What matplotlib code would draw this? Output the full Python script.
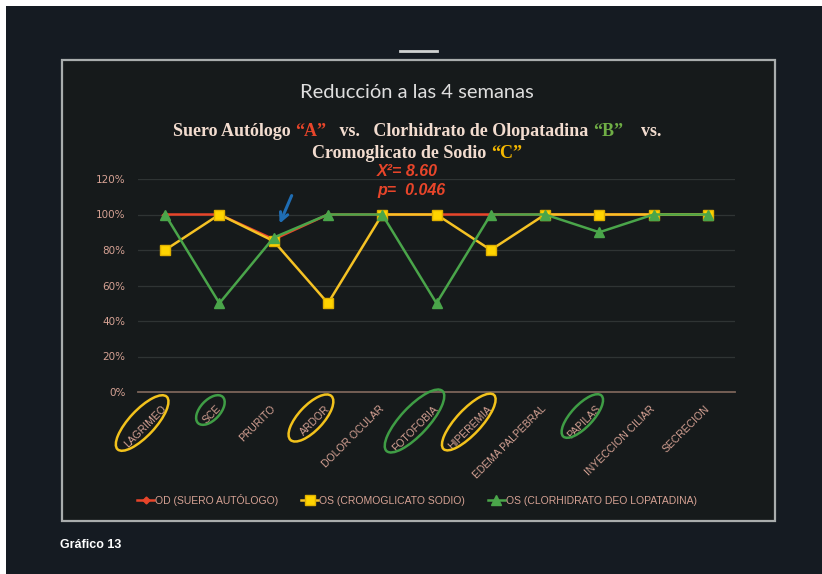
import numpy as np
import matplotlib
matplotlib.use('Agg')
import matplotlib.pyplot as plt
from matplotlib.patches import Rectangle, Ellipse
from matplotlib.ticker import PercentFormatter

# data: reduccion de sintomas a las 4 semanas
sintomas = ['LAGRIMEO', 'SCE', 'PRURITO', 'ARDOR', 'DOLOR OCULAR', 'FOTOFOBIA',
            'HIPEREMIA', 'EDEMA PALPEBRAL', 'PAPILAS', 'INYECCION CILIAR', 'SECRECION']
od_suero = [1.00, 1.00, 0.86, 1.00, 1.00, 1.00, 1.00, 1.00, 1.00, 1.00, 1.00]
os_cromo = [0.80, 1.00, 0.85, 0.50, 1.00, 1.00, 0.80, 1.00, 1.00, 1.00, 1.00]
os_olopa = [1.00, 0.50, 0.87, 1.00, 1.00, 0.50, 1.00, 1.00, 0.90, 1.00, 1.00]
y_ticks = [0, 0.2, 0.4, 0.6, 0.8, 1.0, 1.2]

# sintomas marcados a mano: indice, color, largo, ancho, desplazamiento
marcas = [(0, 'y', 72, 26, -23, 31), (1, 'g', 36, 20, -9, 18),
          (3, 'y', 60, 25, -17, 26), (5, 'g', 82, 28, -22, 29),
          (6, 'y', 74, 25, -22, 30), (8, 'g', 56, 22, -17, 24)]

W, H = 822, 574
RED = '#e8452a'
YEL = '#f5c224'
GRN = '#4aa54a'
PINK = '#d6a294'

fig = plt.figure(figsize=(W / 100, H / 100), dpi=100, facecolor='white')

# fondo y marco (coordenadas en pixeles)
bg = fig.add_axes([0, 0, 1, 1], zorder=0)
bg.set_xlim(0, W)
bg.set_ylim(H, 0)
bg.axis('off')
bg.add_patch(Rectangle((6, 6), W - 6, H - 6, facecolor='#151b22', edgecolor='none'))
bg.add_patch(Rectangle((62, 60), 713, 461, facecolor='#161a1b', edgecolor='#a9adad', lw=1.6))
bg.plot([400, 437], [51, 51], color='#d0d2d2', lw=2)

ax = fig.add_axes([138 / W, (H - 392) / H, (735 - 138) / W, (392 - 179) / H], zorder=1)
ax.set_facecolor('none')
x = np.arange(len(sintomas))
ax.plot(x, od_suero, color=RED, lw=1.8, marker='D', ms=3.5, zorder=3,
        label='OD (SUERO AUTÓLOGO)')
ax.plot(x, os_cromo, color=YEL, lw=1.8, marker='s', ms=6.5, mfc='#ffd400', mec='#e0b000',
        zorder=4, label='OS (CROMOGLICATO SODIO)')
ax.plot(x, os_olopa, color=GRN, lw=1.8, marker='^', ms=6.5, zorder=5,
        label='OS (CLORHIDRATO DEO LOPATADINA)')

ax.set_xlim(-0.5, len(sintomas) - 0.5)
ax.set_ylim(0, 1.2)
ax.set_yticks(y_ticks)
ax.yaxis.set_major_formatter(PercentFormatter(1.0, decimals=0))
ax.grid(axis='y', color='#2f3434', lw=0.9)
ax.set_axisbelow(True)
for s in ['top', 'right', 'left']:
    ax.spines[s].set_visible(False)
ax.spines['bottom'].set_color('#7b6459')
ax.spines['bottom'].set_linewidth(1.3)
ax.tick_params(length=0, colors=PINK, labelsize=7.5)
ax.tick_params(axis='y', pad=9)
ax.set_xticks(x)
ax.set_xticklabels(sintomas, rotation=45, ha='right', va='center',
                   rotation_mode='anchor', fontsize=7.5, color=PINK,
                   family='Liberation Sans')
ax.tick_params(axis='x', pad=11)

# flecha sobre prurito
ax.annotate('', xy=(2, os_olopa[2]), xytext=(18, 42), textcoords='offset pixels',
            arrowprops=dict(arrowstyle='->', color='#1f6db3', lw=2.2,
                            shrinkA=0, shrinkB=11, mutation_scale=14))

# titulos
fig.text(417 / W, 1 - 93 / H, 'Reducción a las 4 semanas', ha='center', va='center',
         fontsize=14.5, color='#dedede', family='Lato')

renderer = fig.canvas.get_renderer()


def linea_color(partes, yc, size=13):
    txts = []
    for t, c in partes:
        txts.append(bg.text(0, yc, t, color=c, fontsize=size, fontweight='bold',
                            family='Liberation Serif', va='center', ha='left'))
    widths = [t.get_window_extent(renderer).width for t in txts]
    x0 = 417 - sum(widths) / 2
    for t, w in zip(txts, widths):
        t.set_x(x0)
        x0 += w


CREAM = '#f2dccf'
linea_color([('Suero Autólogo ', CREAM), ('“A”', RED),
             ('   vs.   Clorhidrato de Olopatadina ', CREAM), ('“B”', '#6fae45'),
             ('    vs.', CREAM)], 131)
linea_color([('Cromoglicato de Sodio ', CREAM), ('“C”', '#f5b800')], 153)

bg.text(377, 172, 'X²= 8.60', color=RED, fontsize=11.5, fontweight='bold',
        fontstyle='italic', family='Liberation Sans', va='center')
bg.text(377, 190, 'p=  0.046', color=RED, fontsize=11.5, fontweight='bold',
        fontstyle='italic', family='Liberation Sans', va='center')

# elipses alrededor de los sintomas
top = fig.add_axes([0, 0, 1, 1], zorder=2)
top.set_xlim(0, W)
top.set_ylim(H, 0)
top.axis('off')
top.patch.set_alpha(0)
cols = {'y': '#f2c21c', 'g': '#3f9d45'}
for i, c, lg, an, dx, dy in marcas:
    px, py = ax.transData.transform((i, 0))
    top.add_patch(Ellipse((px + dx, H - py + dy), lg, an, angle=-47,
                          fill=False, edgecolor=cols[c], lw=1.8))

fig.legend(loc='center', bbox_to_anchor=(417 / W, 1 - 500 / H), ncol=3, frameon=False,
           labelcolor=PINK, handlelength=1.6, handletextpad=0.1,
           columnspacing=2.2, prop={'family': 'Liberation Sans', 'size': 7.5})

fig.text(60 / W, 1 - 545 / H, 'Gráfico 13', color='white', fontsize=9,
         fontweight='bold', family='Liberation Sans', va='center')

fig.savefig('out.png', dpi=100, facecolor='white')
